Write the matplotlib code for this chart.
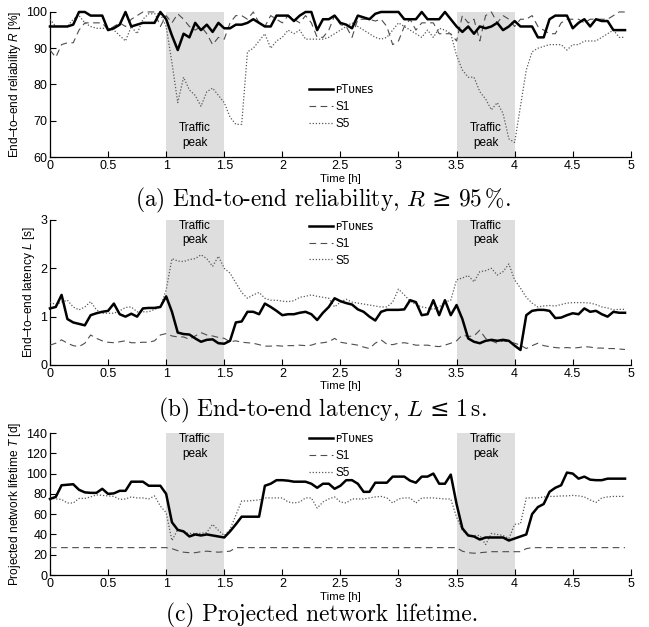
import numpy as np
import matplotlib
matplotlib.use('Agg')
import matplotlib.pyplot as plt

plt.rcParams['font.family'] = ['Liberation Sans', 'DejaVu Sans']
plt.rcParams['mathtext.fontset'] = 'custom'
plt.rcParams['mathtext.rm'] = 'Liberation Sans'
plt.rcParams['mathtext.it'] = 'Liberation Sans:italic'
plt.rcParams['mathtext.cal'] = 'cmmi10'
plt.rcParams['mathtext.sf'] = 'DejaVu Serif'

# time grid [h], one sample every 3 min
t = np.round(np.arange(100) * 0.05, 2)

# (a) end-to-end reliability [%]
rel_ptunes = [96, 96, 96, 96, 96.5, 100, 100, 99, 99, 99,
              95, 95.5, 96.5, 100, 96, 96.5, 97, 97, 97, 100,
              98, 93.5, 89.5, 94, 93, 97, 95, 96.5, 94.5, 97,
              95.5, 95.5, 96.5, 96.5, 97, 98, 97, 96, 96, 99,
              99, 99, 97.5, 99, 100, 100, 95, 98, 98, 99,
              97, 96.5, 95.5, 99, 98.5, 98, 99.5, 100, 100, 100,
              100, 98, 98, 98, 100, 98, 98, 98, 100, 98,
              96, 94.5, 96, 94, 96, 95.5, 96, 97, 95, 96,
              97.5, 96, 96, 96, 93, 93, 98, 99, 99, 99,
              95.5, 97, 98, 96, 98, 97.5, 97.5, 95, 95, 95]
rel_s1 = [89.5, 87.5, 91, 91.5, 91.5, 95, 97, 97, 97, 97,
          95, 96, 97, 96, 98, 99, 100, 100, 100, 96,
          99, 97, 99.5, 98, 96, 95, 96, 94, 91, 93,
          92.5, 97, 99, 99, 98, 100, 97, 96, 99, 98,
          97, 99, 98, 97, 99, 97, 93, 93, 95, 99,
          96.5, 96, 93, 98, 98, 98, 97.5, 98, 96, 91,
          92, 96, 98, 95, 97, 97, 97, 94, 94, 94,
          92, 99, 97, 98, 92, 99, 100, 97, 99, 98,
          96, 98, 98, 99, 96, 95, 94, 94, 97, 98,
          98, 98, 97, 98, 98, 98, 98, 99, 100, 100]
rel_s5 = [98, 96, 96, 96, 98, 99, 97, 96, 95.5, 95.5,
          95.5, 95, 93.5, 92, 96, 94, 98, 99.5, 99.5, 99.5,
          96, 86, 75, 82, 78.5, 77, 74, 78, 79, 77,
          75, 71, 69, 69, 89, 90, 92, 94, 90, 92,
          93, 95, 94, 95, 92.5, 92.5, 92.5, 92.5, 93, 94,
          95, 96, 97, 96, 95, 94, 93, 92.5, 93, 95,
          97, 96, 95, 94, 93, 95, 93, 95.5, 95, 94,
          88, 84, 82, 82, 78, 76, 73, 75, 72, 65,
          64, 74, 84, 89, 90, 90.5, 91, 91, 91, 89.5,
          91, 91, 92, 92, 92, 93, 94, 95, 93, 93]

# (b) end-to-end latency [s]
lat_ptunes = [1.17, 1.2, 1.45, 0.95, 0.88, 0.85, 0.82, 1.03, 1.07, 1.1,
              1.12, 1.27, 1.05, 1.0, 1.06, 1.0, 1.17, 1.18, 1.18, 1.2,
              1.42, 1.1, 0.67, 0.64, 0.63, 0.55, 0.48, 0.52, 0.53, 0.45,
              0.44, 0.5, 0.88, 0.9, 1.1, 1.1, 1.05, 1.27, 1.2, 1.12,
              1.03, 1.05, 1.05, 1.08, 1.1, 1.05, 0.93, 1.08, 1.2, 1.38,
              1.32, 1.28, 1.25, 1.15, 1.1, 1.0, 0.92, 1.1, 1.14, 1.14,
              1.14, 1.15, 1.34, 1.3, 1.03, 1.05, 1.34, 1.03, 1.34, 1.03,
              1.24, 0.95, 0.55, 0.48, 0.45, 0.5, 0.52, 0.5, 0.52, 0.5,
              0.4, 0.31, 1.03, 1.12, 1.14, 1.14, 1.12, 0.97, 0.98, 1.03,
              1.07, 1.05, 1.17, 1.1, 1.12, 1.05, 1.0, 1.1, 1.08, 1.08]
lat_s1 = [0.41, 0.45, 0.52, 0.45, 0.4, 0.38, 0.45, 0.62, 0.55, 0.5,
          0.47, 0.46, 0.48, 0.5, 0.46, 0.46, 0.47, 0.47, 0.5, 0.62,
          0.65, 0.6, 0.58, 0.58, 0.53, 0.6, 0.67, 0.62, 0.6, 0.57,
          0.55, 0.48, 0.5, 0.47, 0.46, 0.45, 0.42, 0.39, 0.39, 0.4,
          0.39, 0.4, 0.4, 0.41, 0.4, 0.41, 0.45, 0.46, 0.48, 0.55,
          0.47, 0.45, 0.43, 0.41, 0.37, 0.34, 0.45, 0.52, 0.43, 0.42,
          0.45, 0.46, 0.44, 0.41, 0.41, 0.41, 0.39, 0.38, 0.41, 0.45,
          0.5, 0.62, 0.59, 0.6, 0.72, 0.55, 0.5, 0.45, 0.5, 0.48,
          0.45, 0.41, 0.34, 0.4, 0.45, 0.4, 0.38, 0.36, 0.35, 0.36,
          0.35, 0.36, 0.38, 0.37, 0.35, 0.35, 0.34, 0.34, 0.33, 0.32]
lat_s5 = [1.3, 1.25, 1.3, 1.34, 1.2, 1.14, 1.2, 1.31, 1.14, 1.07,
          1.07, 1.07, 1.12, 1.19, 1.2, 1.1, 1.1, 1.1, 1.15, 1.2,
          1.55, 2.2, 2.15, 2.14, 2.18, 2.2, 2.28, 2.2, 2.04, 2.25,
          2.0, 1.9, 1.7, 1.5, 1.38, 1.45, 1.5, 1.38, 1.34, 1.34,
          1.32, 1.31, 1.33, 1.4, 1.42, 1.45, 1.42, 1.4, 1.38, 1.2,
          1.3, 1.36, 1.3, 1.28, 1.26, 1.24, 1.22, 1.2, 1.2, 1.3,
          1.57, 1.45, 1.32, 1.25, 1.2, 1.18, 1.15, 1.2, 1.3, 1.34,
          1.76, 1.8, 1.85, 1.72, 1.93, 1.95, 2.0, 1.86, 1.93, 2.09,
          1.76, 1.59, 1.4, 1.28, 1.2, 1.22, 1.23, 1.22, 1.25, 1.28,
          1.29, 1.29, 1.29, 1.28, 1.25, 1.2, 1.18, 1.14, 1.15, 1.15]

# (c) projected network lifetime [d]
life_ptunes = [75, 77, 88.5, 89, 89.5, 84, 81.5, 81, 81, 85,
               80, 80.5, 83, 83, 92, 92, 92, 88, 88, 88,
               80, 52, 44.5, 43, 38, 40, 39, 40, 39, 38,
               37, 43, 50, 57.5, 57.5, 57.5, 57.5, 88, 90, 93.5,
               93.5, 93, 92, 92, 92, 90, 86, 90, 90, 85,
               88, 93.5, 93.5, 90, 82, 82, 91, 91, 91, 97,
               97, 97, 93, 91, 97, 97, 100, 90, 90, 99,
               70, 46, 39, 38, 35, 37, 37, 37, 37, 34,
               36, 38, 40, 60, 67, 70, 82, 86, 88.5, 101,
               100, 95, 97, 94, 93.5, 93.5, 95, 95, 95, 95]
life_s1 = [27, 27, 27, 27, 27, 27, 27, 27, 27, 27,
           27, 27, 27, 27, 27, 27, 27, 27, 27, 27,
           27, 26, 24, 22.5, 22, 22, 23, 23.5, 23, 22.5,
           23, 23.5, 27, 27, 27, 27, 27, 27, 27, 27,
           27, 27, 27, 27, 27, 27, 27, 27, 27, 27,
           27, 27, 27, 27, 27, 27, 27, 27, 27, 27,
           27, 27, 27, 27, 27, 27, 27, 27, 27, 27,
           27, 23.5, 22, 21.5, 22, 22.5, 23, 23, 23, 23,
           23, 23, 26, 27, 27, 27, 27, 27, 27, 27,
           27, 27, 27, 27, 27, 27, 27, 27, 27, 27]
life_s5 = [76, 75, 74.5, 71, 71, 75.5, 75.5, 77, 79, 78.5,
           78, 77.5, 74.5, 75, 77, 76, 76, 75, 78, 68,
           61.5, 34, 45, 42, 41, 41, 41, 42, 50, 44,
           39, 45, 59, 73, 73, 73.5, 74, 76, 76, 76,
           76, 72, 71, 72, 76, 76, 66, 72, 75, 77,
           72, 71, 75, 75, 75, 76, 77, 77.5, 76, 71,
           75, 76, 76, 71, 76, 76, 76, 75.5, 75, 75,
           57, 44, 39, 39, 39, 30, 41, 40, 39, 36,
           50, 50.5, 76, 76, 76, 77, 77.5, 77.5, 78, 78,
           78.5, 78, 77, 74, 71.5, 76, 77, 77.5, 77.5, 77.5]

peaks = [(1.0, 1.5), (3.5, 4.0)]
xticks = [0, 0.5, 1, 1.5, 2, 2.5, 3, 3.5, 4, 4.5, 5]
xticklabels = ['0', '0.5', '1', '1.5', '2', '2.5', '3', '3.5', '4', '4.5', '5']

panels = [
    dict(data=(rel_ptunes, rel_s1, rel_s5), ylim=(60, 100), yticks=[60, 70, 80, 90, 100],
         ylabel='End–to–end reliability $R$ [%]', box=(0.7496, 0.2313),
         peak_y=0.148, leg_y=0.50,
         caption=r'(a) End-to-end reliability, $\mathcal{R}\,\mathsf{\geq}\,$95$\,$%.', cap_y=0.671),
    dict(data=(lat_ptunes, lat_s1, lat_s5), ylim=(0, 3), yticks=[0, 1, 2, 3],
         ylabel='End–to–end latency $L$ [s]', box=(0.4179, 0.2313),
         peak_y=0.91, leg_y=0.995,
         caption=r'(b) End-to-end latency, $\mathcal{L}\,\mathsf{\leq}\,$1$\,$s.', cap_y=0.336),
    dict(data=(life_ptunes, life_s1, life_s5), ylim=(0, 140), yticks=[0, 20, 40, 60, 80, 100, 120, 140],
         ylabel='Projected network lifetime $T$ [d]', box=(0.0829, 0.2265),
         peak_y=0.905, leg_y=0.998,
         caption='(c) Projected network lifetime.', cap_y=0.009),
]

fig = plt.figure(figsize=(6.49, 6.27), dpi=100)

for p in panels:
    ax = fig.add_axes([0.077, p['box'][0], 0.895, p['box'][1]])
    y_pt, y_s1, y_s5 = p['data']
    for a, b in peaks:
        ax.axvspan(a, b, color='#dedede', lw=0, zorder=0)
        ax.text((a + b) / 2, p['peak_y'], 'Traffic\npeak', transform=ax.get_xaxis_transform(),
                ha='center', va='center', fontsize=8.5, linespacing=1.25)
    ax.plot(t, y_pt, color='black', lw=1.8, label='ᴘTᴜɴᴇꜱ', zorder=4, clip_on=False)
    ax.plot(t, y_s1, color='0.3', lw=0.8, ls=(0, (6, 4)), label='S1', zorder=3, clip_on=False)
    ax.plot(t, y_s5, color='0.35', lw=0.9, ls=(0, (1, 1.5)), label='S5', zorder=3, clip_on=False)

    ax.set_xlim(0, 5)
    ax.set_ylim(*p['ylim'])
    ax.set_xticks(xticks)
    ax.set_xticklabels(xticklabels)
    ax.set_yticks(p['yticks'])
    ax.tick_params(direction='in', length=4, width=0.8, labelsize=9, pad=2)
    for s in ['top', 'right']:
        ax.spines[s].set_visible(False)
    for s in ['left', 'bottom']:
        ax.spines[s].set_linewidth(0.9)
    ax.set_ylabel(p['ylabel'], fontsize=8.6, labelpad=2)
    ax.set_xlabel('Time [h]', fontsize=8.2)
    ax.xaxis.set_label_coords(0.5, -16.5 / (p['box'][1] * 627))
    ax.legend(loc='upper left', bbox_to_anchor=(0.446, p['leg_y']), frameon=False,
              fontsize=8.5, borderpad=0, borderaxespad=0, handlelength=2.0,
              handletextpad=0.25, labelspacing=0.42)
    fig.text(0.497, p['cap_y'], p['caption'], ha='center', va='baseline', fontsize=16.8,
             family=['cmr10', 'DejaVu Serif'])

fig.savefig('out.png', dpi=100)
